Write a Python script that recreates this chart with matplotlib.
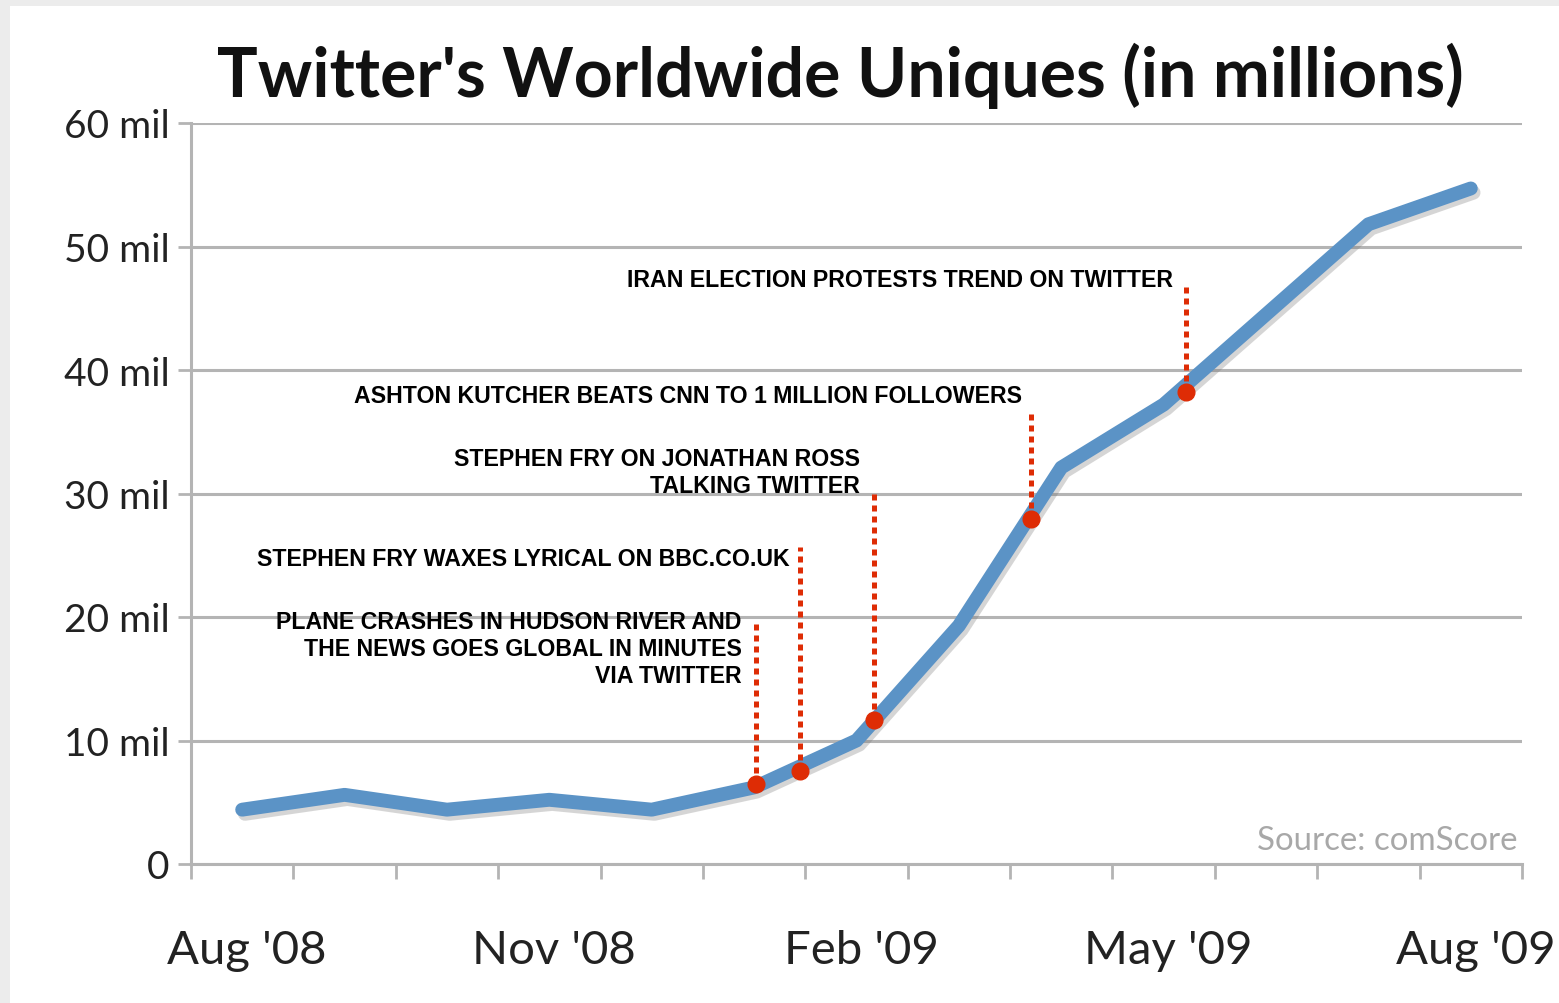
import numpy as np
import matplotlib.pyplot as plt
import matplotlib.patheffects as pe
import matplotlib.transforms as mtransforms
from matplotlib.patches import Rectangle

# Datos: usuarios unicos mensuales (millones), Aug '08 - Aug '09
months = np.arange(13)
uniques = [4.4, 5.6, 4.4, 5.2, 4.4, 6.2, 10.0, 19.3, 32.1, 37.2, 44.5, 51.8, 54.7]
month_labels = ["Aug '08", "Nov '08", "Feb '09", "May '09", "Aug '09"]
label_pos = [0, 3, 6, 9, 12]

# Eventos (posicion en meses, valor en la curva, tope de la linea punteada)
event_x = [5.02, 5.45, 6.17, 7.70, 9.22]
event_y = [6.5, 7.5, 11.7, 27.9, 38.2]
event_top = [19.8, 25.7, 30.0, 36.8, 47.1]
event_text = [
    "PLANE CRASHES IN HUDSON RIVER AND\nTHE NEWS GOES GLOBAL IN MINUTES\nVIA TWITTER",
    "STEPHEN FRY WAXES LYRICAL ON BBC.CO.UK",
    "STEPHEN FRY ON JONATHAN ROSS\nTALKING TWITTER",
    "ASHTON KUTCHER BEATS CNN TO 1 MILLION FOLLOWERS",
    "IRAN ELECTION PROTESTS TREND ON TWITTER",
]
text_x = [4.88, 5.35, 6.03, 7.62, 9.09]
text_y = [20.6, 25.65, 33.8, 38.9, 48.25]

grey = '#b4b4b4'
blue = '#5b93c6'
red = '#de2c05'

fig = plt.figure(figsize=(15.59, 10.04), dpi=100)
fig.patch.set_facecolor('#ececec')
fig.patches.append(Rectangle((10 / 1559, 0), 1, 1 - 7 / 1004, transform=fig.transFigure,
                             facecolor='white', edgecolor='none', zorder=-1))

ax = fig.add_axes([191 / 1559, 1 - 865 / 1004, 1331 / 1559, 741 / 1004])
ax.set_facecolor('none')

# Linea principal con sombra
ax.plot(months, uniques, color=blue, lw=10, solid_capstyle='round', solid_joinstyle='round',
        zorder=3, path_effects=[pe.SimpleLineShadow(offset=(2, -3), shadow_color='#777777', alpha=0.3),
                                pe.Normal()])

# Eventos
for x, y, top, txt, tx, ty in zip(event_x, event_y, event_top, event_text, text_x, text_y):
    ax.plot([x, x], [y, top], color=red, lw=3.6, linestyle=(0, (1.2, 1.0)), zorder=4)
    ax.plot(x, y, 'o', color=red, ms=12, zorder=5)
    ax.text(tx, ty, txt, ha='right', va='top', ma='right', fontsize=16.7, fontweight='bold',
            family='Liberation Sans', linespacing=1.22, zorder=6)

ax.set_xlim(-0.5, 12.5)
ax.set_ylim(0, 60)

ax.set_yticks(np.arange(0, 61, 10))
ax.set_yticklabels(['0'] + [f'{v} mil' for v in range(10, 61, 10)])
ax.grid(axis='y', color=grey, lw=2.2, zorder=1)
ax.set_axisbelow(True)

ax.set_xticks(np.arange(-0.5, 13, 1))
ax.set_xticklabels([])
ax.set_xticks(label_pos, minor=True)
ax.set_xticklabels(month_labels, minor=True)

ax.tick_params(axis='y', length=9.5, width=2, color=grey, pad=6, labelsize=28, labelcolor='#222222')
ax.tick_params(axis='x', which='major', length=11, width=2, color=grey)
ax.tick_params(axis='x', which='minor', length=0, pad=47, labelsize=34, labelcolor='#222222')
shift = mtransforms.ScaledTranslation(5 / 100, 0, fig.dpi_scale_trans)
for lab in ax.get_xticklabels(minor=True):
    lab.set_family('Lato')
    lab.set_transform(lab.get_transform() + shift)
for lab in ax.get_yticklabels():
    lab.set_family('Lato')

for s in ['top', 'right']:
    ax.spines[s].set_visible(False)
for s in ['left', 'bottom']:
    ax.spines[s].set_color(grey)
    ax.spines[s].set_linewidth(2.2)

ax.text(12.46, 0.75, 'Source: comScore', ha='right', va='bottom', fontsize=23.8,
        family='Lato', color='#a8a8a8')

fig.text(0.539, 1 - 97 / 1004, "Twitter's Worldwide Uniques (in millions)", ha='center',
         va='baseline', fontsize=49, fontweight='bold', family='Lato', color='#111111')

fig.savefig('out.png', dpi=100, facecolor=fig.get_facecolor())
